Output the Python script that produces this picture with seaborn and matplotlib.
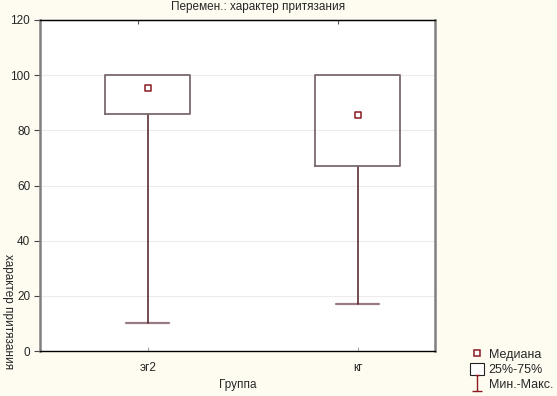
import numpy as np
import pandas as pd
import matplotlib
matplotlib.use('Agg')
import matplotlib.pyplot as plt
import seaborn as sns
from matplotlib.lines import Line2D
from matplotlib.patches import Rectangle
from matplotlib.path import Path

# ── data ────────────────────────────────────────────────────
groups  = ["эг2", "кг"]
medians = [95.5, 85.5]
q1      = [86, 67]
q3      = [100, 100]
mins    = [10, 17]
maxs    = [100, 100]

title  = "Перемен.: характер притязания"
xlabel = "Группа"
ylabel = "характер притязания"
yticks = [0, 20, 40, 60, 80, 100, 120]

# ── style ───────────────────────────────────────────────────
sns.set_style("white")
plt.rcParams['font.family'] = ['Liberation Sans', 'DejaVu Sans']
bg = "#FEFCF1"
box_col = "#7a6a6e"
whisk_col = "#4e1c20"
cap_col = "#9a7a84"
med_col = "#8b1a22"

fig = plt.figure(figsize=(5.57, 3.96), dpi=100, facecolor=bg)
ax = fig.add_axes([40/557, 45/396, 395/557, 331/396])
ax.set_facecolor("white")

pos = np.arange(len(groups))
stats = [dict(med=m, q1=a, q3=b, whislo=lo, whishi=hi, fliers=[], label=g)
         for g, m, a, b, lo, hi in zip(groups, medians, q1, q3, mins, maxs)]
parts = ax.bxp(stats, positions=pos, widths=0.405, capwidths=0.205,
               showfliers=False, patch_artist=False,
               boxprops=dict(color=box_col, linewidth=1.3, zorder=4),
               whiskerprops=dict(color=whisk_col, linewidth=1.1, zorder=3),
               capprops=dict(color=cap_col, linewidth=1.6, zorder=2),
               medianprops=dict(linewidth=0))
# upper caps sit on the box edge when max == q3, hide them
for cap, hi, top_q in zip(parts['caps'][1::2], maxs, q3):
    if hi <= top_q:
        cap.set_visible(False)

df = pd.DataFrame({"pos": pos, "median": medians})
sns.scatterplot(data=df, x="pos", y="median", marker="s", s=20,
                facecolor="white", edgecolor=med_col, linewidth=1.1,
                ax=ax, zorder=5, legend=False)

ax.set_xlim(-0.514, 1.367)
ax.set_ylim(0, 120)
ax.set_yticks(yticks)
ax.set_xticks(pos)
ax.set_xticklabels(groups)
ax.yaxis.grid(True, color="#ececec", linewidth=0.8)
ax.set_axisbelow(True)
ax.tick_params(axis='y', direction='out', length=4, labelsize=8.5, pad=3,
               left=True, color="#444444")
ax.tick_params(axis='x', direction='in', length=3, labelsize=8.5, pad=8,
               bottom=True, color="#aaaaaa")
for s in ["top", "bottom"]:
    ax.spines[s].set_color("black")
    ax.spines[s].set_linewidth(1.0)
for s in ["left", "right"]:
    ax.spines[s].set_color("#808080")
    ax.spines[s].set_linewidth(1.8)

# small ticks on the top border
top = ax.secondary_xaxis('top')
top.set_xticks([-0.048, 0.905])
top.set_xticklabels([])
top.tick_params(direction='in', length=3, color="#555555")

ax.set_xlabel("")
ax.set_ylabel("")
fig.text(258/557, 1 - 7/396, title, ha='center', va='center', fontsize=8.5)
fig.text(238/557, 1 - 385/396, xlabel, ha='center', va='center', fontsize=8.5)
fig.text(8/557, 1 - 312/396, ylabel, ha='center', va='center',
         rotation=270, fontsize=8.5)

# ── legend ──────────────────────────────────────────────────
whisk_marker = Path([(-0.25, 1), (0.25, 1), (0, 1), (0, -1), (-0.6, -1), (0.6, -1)],
                    [Path.MOVETO, Path.LINETO, Path.MOVETO, Path.LINETO,
                     Path.MOVETO, Path.LINETO])
handles = [
    Line2D([], [], marker='s', linestyle='none', markersize=4.5,
           markerfacecolor='white', markeredgecolor=med_col, markeredgewidth=1.1),
    Rectangle((0, 0), 1, 1, facecolor='white', edgecolor='#222222', linewidth=0.8),
    Line2D([], [], marker=whisk_marker, linestyle='none', markersize=11,
           markeredgewidth=1.0, color=med_col, markerfacecolor='none'),
]
fig.legend(handles, ["Медиана", "25%-75%", "Мин.-Макс."],
           loc='upper left', bbox_to_anchor=(470/557, 1 - 348/396),
           frameon=False, fontsize=9, handlelength=1.1, handleheight=1.1,
           handletextpad=0.4, labelspacing=0.12, borderaxespad=0, borderpad=0)

fig.savefig("out.png", dpi=100, facecolor=bg)
